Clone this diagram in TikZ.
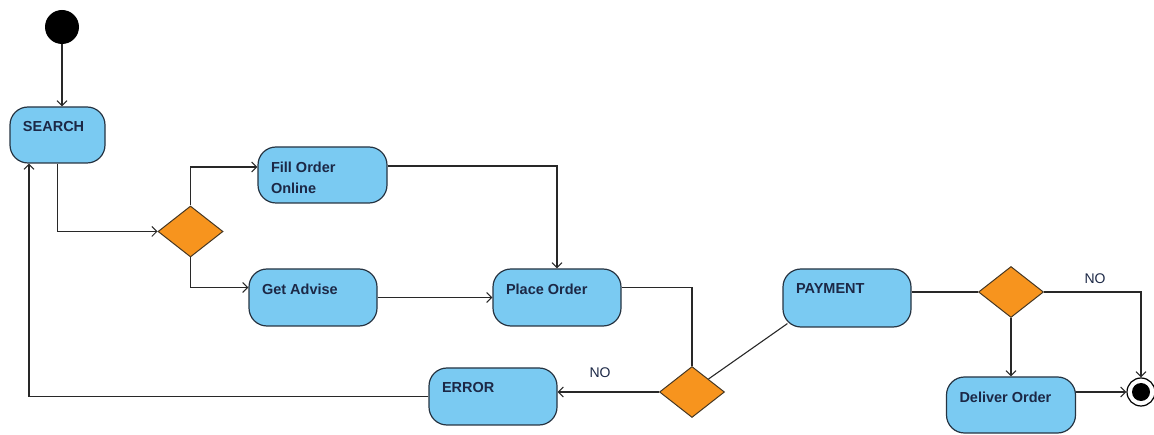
\documentclass[tikz,border=0pt]{standalone}
\usepackage{fontspec}
\setmainfont{Liberation Sans}
\usetikzlibrary{shapes.geometric,arrows.meta,calc}
\definecolor{actfill}{RGB}{122,202,242}
\definecolor{actline}{RGB}{38,52,66}
\definecolor{decfill}{RGB}{247,148,30}
\definecolor{decline}{RGB}{70,55,35}
\definecolor{txt}{RGB}{28,40,70}
\definecolor{conn}{RGB}{40,40,40}
\newcommand\acttext[3]{\parbox[c][#2][t]{#1}{\leftskip=13pt\rightskip=0pt plus 1fil\vspace*{14.5pt}\noindent #3}}
\begin{document}
\begin{tikzpicture}[x=1pt,y=-1pt,
  act/.style={draw=actline, fill=actfill, rounded corners=18pt, inner sep=0pt,
    line width=1.2pt, text=txt, font=\bfseries\fontsize{14.5}{21}\selectfont},
  dec/.style={diamond, draw=decline, fill=decfill, line width=1pt, inner sep=0pt,
    minimum width=65pt, minimum height=51pt},
  conn/.style={draw=conn, line width=1.1pt},
  arr/.style={conn, -{Straight Barb[length=5pt,width=10pt,line width=1pt]}},
  lbl/.style={font=\fontsize{14}{16}\selectfont, text=txt}
]
\useasboundingbox (0,0) rectangle (1154,435);

\node[circle, fill=black, minimum width=34pt, minimum height=34pt, inner sep=0pt] (start) at (62,27) {};

\node[act] (search) at (57.5,135) {\acttext{95pt}{56pt}{SEARCH}};
\node[act] (fill) at (322.5,175) {\acttext{129pt}{56pt}{Fill Order\\Online}};
\node[act] (get) at (313,297.5) {\acttext{128pt}{57pt}{Get Advise}};
\node[act] (place) at (557,297.5) {\acttext{128pt}{57pt}{Place Order}};
\node[act] (error) at (493,396.5) {\acttext{128pt}{57pt}{ERROR}};
\node[act] (pay) at (847,298) {\acttext{128pt}{58pt}{PAYMENT}};
\node[act] (deliver) at (1011,405) {\acttext{129pt}{56pt}{Deliver Order}};

\node[dec] (d1) at (190.5,231.5) {};
\node[dec] (d2) at (692,392) {};
\node[dec] (d3) at (1011,292) {};

\node[circle, draw=black, line width=1.2pt, fill=white, minimum size=28pt, inner sep=0pt] (final) at (1141,392) {};
\node[circle, fill=black, minimum size=18pt, inner sep=0pt] (finalin) at (final.center) {};

\draw[arr] (start.south) -- (start.south |- search.north);
\draw[arr] (search.south) |- (d1.west);
\draw[arr] (d1.north) |- ([yshift=8pt]fill.west);
\draw[arr] (d1.south) |- ([yshift=10pt]get.west);
\draw[arr] (get.east) -- (place.west);
\draw[arr] ([yshift=9pt]fill.east) -| (place.north);
\draw[conn] ([yshift=10pt]place.east) -| (d2.north);
\draw[arr] (d2.west) -- (d2.west -| error.east);
\node[lbl] (no1) at (600,373) {NO};
\draw[arr] (error.west) -| ([xshift=-28.5pt]search.south);
\draw[conn] (d2.north east) -- ([shift={(5pt,4pt)}]pay.south west);
\draw[conn] (d3.west -| pay.east) -- (d3.west);
\draw[arr] (d3.east) -| (final.north);
\node[lbl] (no2) at (1095,279) {NO};
\draw[arr] (d3.south) -- (deliver.north);
\draw[arr] (deliver.east |- final.west) -- (final.west);
\end{tikzpicture}
\end{document}
